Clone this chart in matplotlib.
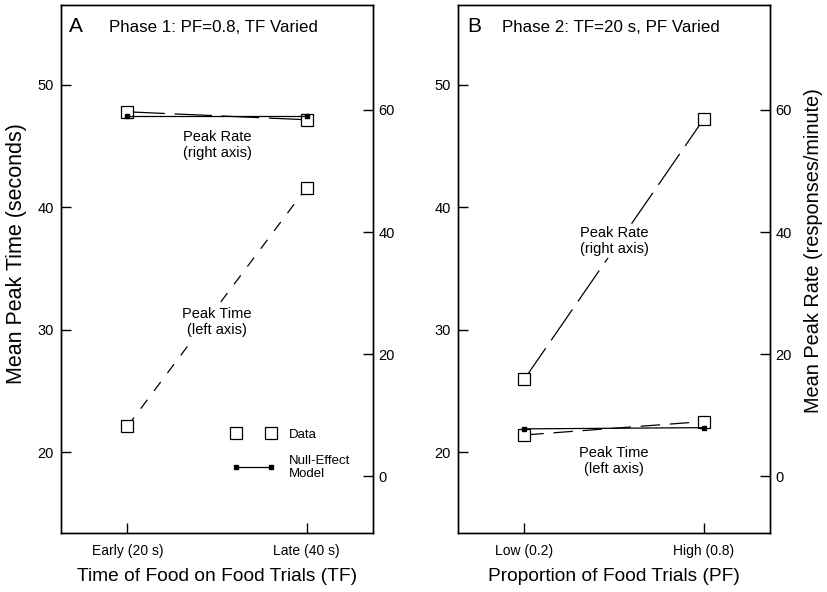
import numpy as np
import matplotlib
matplotlib.use('Agg')
import matplotlib.pyplot as plt
from matplotlib.lines import Line2D

plt.rcParams['font.family'] = ['Liberation Sans', 'DejaVu Sans']
plt.rcParams['lines.scale_dashes'] = False

# x categories
x_pos = [0, 1]
labels_a = ['Early (20 s)', 'Late (40 s)']
labels_b = ['Low (0.2)', 'High (0.8)']

# Panel A: PF=0.8, TF varied
a_time_data = [22.1, 41.6]    # left axis (s)
a_rate_data = [59.7, 58.4]    # right axis (resp/min)
a_rate_model = [59.0, 59.0]

# Panel B: TF=20 s, PF varied
b_time_data = [21.4, 22.5]
b_time_model = [21.9, 22.0]
b_rate_data = [15.9, 58.5]

left_ticks = [20, 30, 40, 50]
right_ticks = [0, 20, 40, 60]

W, H = 828, 592
box = dict(facecolor='white', edgecolor='none', pad=1)


def setup(ax, ax2, xlabels, xtitle):
    ax.set_xlim(-0.37, 1.37)
    ax.set_ylim(13.4, 56.5)
    ax2.set_ylim(-9.3, 77.2)
    ax.set_xticks(x_pos)
    ax.set_xticklabels(xlabels, fontsize=10)
    ax.set_yticks(left_ticks)
    ax2.set_yticks(right_ticks)
    ax.tick_params(axis='y', direction='in', length=7, width=1, labelsize=10.5, pad=5)
    ax.tick_params(axis='x', direction='in', length=7, width=1, pad=8)
    ax2.tick_params(axis='y', direction='in', length=7, width=1, labelsize=10.5, pad=4)
    ax.set_xlabel(xtitle, fontsize=13.8, labelpad=7)
    for a in (ax, ax2):
        for s in a.spines.values():
            s.set_linewidth(1)


def data_line(ax, y, dashes):
    ax.plot(x_pos, y, color='black', lw=0.9, dashes=dashes, marker='s', ms=8,
            mfc='white', mec='black', mew=0.9, zorder=3)


def model_line(ax, y):
    ax.plot(x_pos, y, color='black', lw=0.9, ls='-', marker='s', ms=3.5,
            mfc='black', mec='black', zorder=4)


def note(ax, x, y, s):
    ax.text(x, y, s, transform=ax.transAxes, fontsize=10.5, ha='center',
            va='center', bbox=box, zorder=6)


fig = plt.figure(figsize=(W / 100, H / 100), dpi=100)

# ---- Panel A
axA = fig.add_axes([61 / W, 59 / H, 312 / W, 528 / H])
axA2 = axA.twinx()
setup(axA, axA2, labels_a, 'Time of Food on Food Trials (TF)')
axA.set_ylabel('Mean Peak Time (seconds)', fontsize=15.5)
axA.yaxis.set_label_coords(-0.109, 0.53)
data_line(axA, a_time_data, (8, 8))
data_line(axA2, a_rate_data, (27, 7))
model_line(axA2, a_rate_model)
axA2.text(0.026, 0.96, 'A', transform=axA.transAxes, fontsize=15, va='center', ha='left')
axA2.text(0.154, 0.958, 'Phase 1: PF=0.8, TF Varied', transform=axA.transAxes,
          fontsize=12.2, va='center', ha='left')
note(axA2, 0.5, 0.735, 'Peak Rate\n(right axis)')
note(axA2, 0.5, 0.40, 'Peak Time\n(left axis)')

handles = [
    Line2D([], [], ls='none', marker='s', ms=8, mfc='white', mec='black', mew=0.9),
    Line2D([], [], ls='-', color='black', lw=0.9, marker='s', ms=3.5, mfc='black', mec='black'),
]
axA2.legend(handles, ['Data', 'Null-Effect\nModel'], numpoints=2, frameon=False,
            fontsize=9.5, handlelength=3.25, handletextpad=1.07, labelspacing=1.05,
            borderpad=0, borderaxespad=0, loc='upper left', bbox_to_anchor=(0.548, 0.198))

# ---- Panel B
axB = fig.add_axes([458 / W, 59 / H, 312 / W, 528 / H])
axB2 = axB.twinx()
setup(axB, axB2, labels_b, 'Proportion of Food Trials (PF)')
axB2.set_ylabel('Mean Peak Rate (responses/minute)', fontsize=14.3)
axB2.yaxis.set_label_coords(1.11, 0.535)
data_line(axB, b_time_data, (14, 7))
model_line(axB, b_time_model)
data_line(axB2, b_rate_data, (27, 7))
axB2.text(0.029, 0.96, 'B', transform=axB.transAxes, fontsize=15, va='center', ha='left')
axB2.text(0.141, 0.958, 'Phase 2: TF=20 s, PF Varied', transform=axB.transAxes,
          fontsize=12.2, va='center', ha='left')
note(axB2, 0.5, 0.553, 'Peak Rate\n(right axis)')
note(axB2, 0.5, 0.136, 'Peak Time\n(left axis)')

fig.savefig('out.png', dpi=100)
